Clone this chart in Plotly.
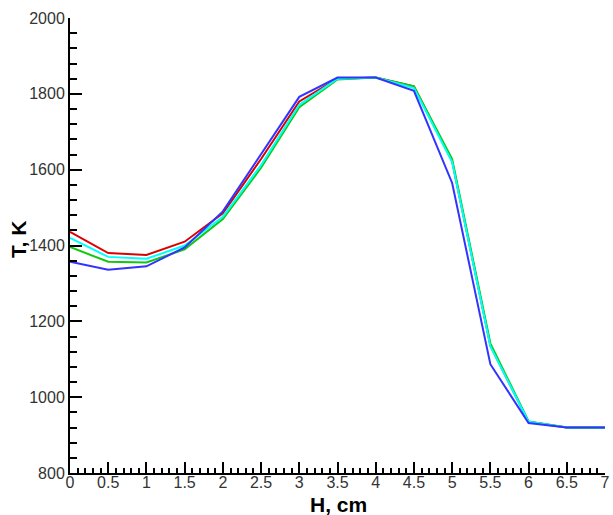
import plotly.graph_objects as go

H = [0, 0.5, 1, 1.5, 2, 2.5, 3, 3.5, 4, 4.5, 5, 5.5, 6, 6.5, 7]
T_red   = [1436, 1380, 1375, 1410, 1485, 1628, 1780, 1840, 1843, 1820, 1622, 1136, 935, 920, 920]
T_green = [1396, 1357, 1355, 1390, 1470, 1605, 1765, 1838, 1843, 1820, 1628, 1142, 936, 920, 920]
T_cyan  = [1420, 1370, 1365, 1400, 1476, 1612, 1771, 1840, 1843, 1815, 1620, 1134, 935, 920, 920]
T_blue  = [1357, 1336, 1345, 1395, 1490, 1640, 1792, 1843, 1843, 1808, 1565, 1087, 932, 920, 920]

series = [("red", T_red, "#dd0000"), ("green", T_green, "#10c810"),
          ("cyan", T_cyan, "#00ffff"), ("blue", T_blue, "#3333ff")]

fig = go.Figure()
for name, ys, col in series:
    fig.add_trace(go.Scatter(x=H, y=ys, mode="lines", name=name,
                             line=dict(color=col, width=2)))

tickfont = dict(family="Liberation Sans, Arial, sans-serif", size=16, color="#333333")
titlefont = dict(family="Liberation Sans, Arial, sans-serif", size=21, color="#000000", weight="bold")

fig.update_layout(
    width=613, height=515,
    margin=dict(l=70, r=8, t=18, b=42, autoexpand=False),
    paper_bgcolor="white", plot_bgcolor="white",
    showlegend=False,
    xaxis=dict(range=[0, 7], dtick=0.5, tick0=0, showgrid=False, zeroline=False,
               automargin=False, ticklabelstandoff=-6,
               showline=True, linecolor="black", linewidth=2,
               ticks="inside", ticklen=11, tickwidth=2, tickcolor="black",
               tickfont=tickfont,
               minor=dict(dtick=0.1, ticks="inside", ticklen=5, tickwidth=1.5, tickcolor="black")),
    yaxis=dict(range=[800, 2000], dtick=200, tick0=800, showgrid=False, zeroline=False,
               automargin=False,
               showline=True, linecolor="black", linewidth=2,
               ticks="inside", ticklen=12, tickwidth=2, tickcolor="black",
               tickfont=tickfont,
               minor=dict(dtick=40, ticks="inside", ticklen=7, tickwidth=1.5, tickcolor="black")),
    annotations=[
        dict(text="H, cm", xref="paper", yref="paper", x=(338 - 70) / 535, y=-(504 - 473) / 455,
             xanchor="center", yanchor="middle", showarrow=False, font=titlefont, borderpad=0),
        dict(text="T, K", xref="paper", yref="paper", x=-(70 - 18) / 535, y=(473 - 240) / 455,
             xanchor="center", yanchor="middle", showarrow=False, font=titlefont, textangle=-90),
    ],
)

fig.write_html("out.html")
